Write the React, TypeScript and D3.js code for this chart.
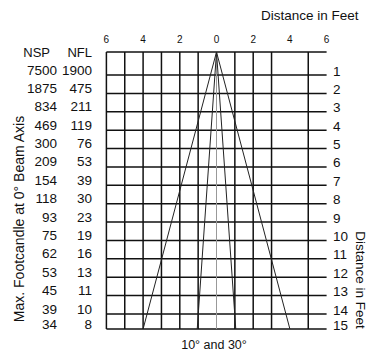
import React from "react";
import * as d3 from "d3";

const distances = [1, 2, 3, 4, 5, 6, 7, 8, 9, 10, 11, 12, 13, 14, 15];
const nspValues = [7500, 1875, 834, 469, 300, 209, 154, 118, 93, 75, 62, 53, 45, 39, 34];
const nflValues = [1900, 475, 211, 119, 76, 53, 39, 30, 23, 19, 16, 13, 11, 10, 8];
const topTickValues = [-6, -4, -2, 0, 2, 4, 6];
const gridFeet = [-6, -5, -4, -3, -2, -1, 1, 2, 3, 5];
const beamHalfWidths = [4.0, 1.05]; // 30° and 10° at 15 ft

const W = 369;
const H = 350;
const FONT = "'Liberation Sans', Arial, Helvetica, sans-serif";
const INK = "#111";

export default function App() {
  const px = 18.35;
  const cx = 216.5;
  const x = d3.scaleLinear().domain([-6, 6]).range([cx - 6 * px, cx + 6 * px]);
  const y = d3.scaleLinear().domain([0, 1, 14, 15]).range([52, 75, 314, 329]);
  const maxD = d3.max(distances) as number;

  const beamLines: [number, number][][] = [];
  beamHalfWidths.forEach((h) => {
    beamLines.push([[0, 0], [-h, maxD]]);
    beamLines.push([[0, 0], [h, maxD]]);
  });
  const line = d3
    .line<[number, number]>()
    .x((d) => x(d[0]))
    .y((d) => y(d[1]));

  return (
    <svg
      width={W}
      height={H}
      style={{ position: "absolute", left: 0, top: 0, background: "#fff" }}
      fontFamily={FONT}
    >
      <rect width={W} height={H} fill="#fff" />
      {[0, ...distances].map((d) => (
        <line
          key={"h" + d}
          x1={x(-6)}
          x2={x(6)}
          y1={y(d)}
          y2={y(d)}
          stroke={INK}
          strokeWidth={1.5}
        />
      ))}
      {gridFeet.map((f) => (
        <line
          key={"v" + f}
          x1={x(f)}
          x2={x(f)}
          y1={y(0)}
          y2={y(maxD)}
          stroke={INK}
          strokeWidth={1.5}
        />
      ))}
      <line x1={x(0)} x2={x(0)} y1={y(0)} y2={y(maxD)} stroke="#999" strokeWidth={1} />
      {beamLines.map((b, i) => (
        <path key={"b" + i} d={line(b) || ""} fill="none" stroke="#222" strokeWidth={1} />
      ))}
      {topTickValues.map((t) => (
        <text key={"t" + t} x={x(t)} y={43} fontSize={10} textAnchor="middle" fill={INK}>
          {Math.abs(t)}
        </text>
      ))}
      <text x={261} y={20} fontSize={13.5} fill={INK}>
        Distance in Feet
      </text>
      <text x={50} y={57} fontSize={13} textAnchor="end" fill={INK}>
        NSP
      </text>
      <text x={92} y={57} fontSize={13} textAnchor="end" fill={INK}>
        NFL
      </text>
      {distances.map((d, i) => (
        <g key={"r" + d}>
          <text x={57} y={y(d) - 0.5} fontSize={13.5} textAnchor="end" fill={INK}>
            {nspValues[i]}
          </text>
          <text x={92} y={y(d) - 0.5} fontSize={13.5} textAnchor="end" fill={INK}>
            {nflValues[i]}
          </text>
          <text x={333} y={y(d) + 0.5} fontSize={13.5} fill={INK}>
            {d}
          </text>
        </g>
      ))}
      <text
        transform="translate(24,219) rotate(-90)"
        fontSize={14}
        textAnchor="middle"
        fill={INK}
      >
        Max. Footcandle at 0° Beam Axis
      </text>
      <text
        transform="translate(356,280) rotate(90)"
        fontSize={13.5}
        textAnchor="middle"
        fill={INK}
      >
        Distance in Feet
      </text>
      <text x={214} y={348.5} fontSize={12.5} textAnchor="middle" fill={INK}>
        10° and 30°
      </text>
    </svg>
  );
}
